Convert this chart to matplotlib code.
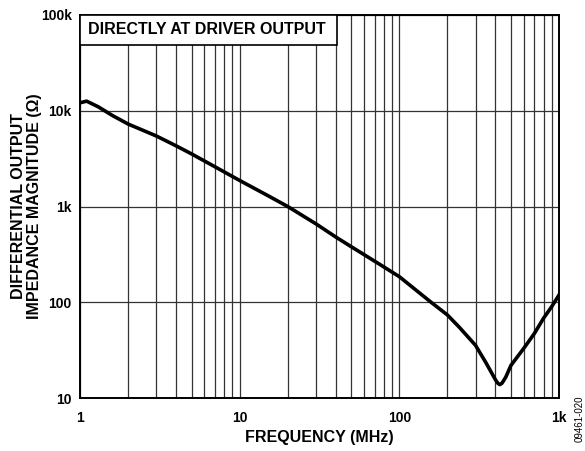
import numpy as np
import matplotlib
matplotlib.use('Agg')
import matplotlib.pyplot as plt
from matplotlib.patches import Rectangle
from matplotlib.ticker import FixedLocator, NullFormatter, NullLocator

plt.rcParams['font.family'] = ['Liberation Sans', 'DejaVu Sans']

# frequency (MHz) and impedance magnitude (ohm)
freq = [1, 1.1, 1.3, 1.6, 2, 3, 4, 5, 7, 10, 15, 20, 30, 40, 50, 60, 75, 100,
        130, 158, 200, 237, 300, 348, 400, 415, 426, 440, 464, 500, 600, 700, 800, 900, 1000]
imped = [12100, 12600, 11000, 8900, 7270, 5460, 4300, 3540, 2600, 1870, 1300, 1000,
         660, 480, 380, 315, 250, 185, 130, 100, 73.7, 55, 35.5, 23.5, 15.5, 14.2,
         13.8, 14.3, 16.5, 21.9, 32.8, 47, 68, 90, 119]

xticks = [1, 10, 100, 1000]
xticklabels = ['1', '10', '100', '1k']
yticks = [10, 100, 1000, 10000, 100000]
yticklabels = ['10', '100', '1k', '10k', '100k']

fig = plt.figure(figsize=(5.85, 4.51), dpi=100)
ax = fig.add_axes([80/585, 53/451, 479/585, 383/451])

ax.plot(freq, imped, color='black', lw=2.6, solid_joinstyle='round', zorder=3)

ax.set_xscale('log')
ax.set_yscale('log')
ax.set_xlim(1, 1000)
ax.set_ylim(10, 100000)

ax.set_xticks(xticks)
ax.set_xticklabels(xticklabels, fontsize=10, fontweight='bold')
ax.set_yticks(yticks)
ax.set_yticklabels(yticklabels, fontsize=10, fontweight='bold')
ax.xaxis.set_minor_locator(FixedLocator([m * d for d in (1, 10, 100) for m in range(2, 10)]))
ax.xaxis.set_minor_formatter(NullFormatter())
ax.yaxis.set_minor_locator(NullLocator())
ax.tick_params(which='both', length=0)
ax.tick_params(axis='x', pad=9)
ax.tick_params(axis='y', pad=6)

ax.grid(True, which='major', axis='both', color='#333333', lw=0.9)
ax.grid(True, which='minor', axis='x', color='#333333', lw=0.9)
ax.set_axisbelow(True)
for s in ax.spines.values():
    s.set_linewidth(1.4)

ax.set_xlabel('FREQUENCY (MHz)', fontsize=11.5, fontweight='bold', labelpad=4)
ax.set_ylabel('DIFFERENTIAL OUTPUT\nIMPEDANCE MAGNITUDE (Ω)', fontsize=11.5,
              fontweight='bold', labelpad=-1, linespacing=1.05)

# label box in the upper left
ax.add_patch(Rectangle((0, 0.9217), 0.5365, 0.0783, transform=ax.transAxes,
                       facecolor='white', edgecolor='black', lw=1.2, zorder=4))
ax.text(0.017, 0.961, 'DIRECTLY AT DRIVER OUTPUT', transform=ax.transAxes,
        fontsize=11.5, fontweight='bold', va='center', ha='left', zorder=5)

fig.text(580/585, 1 - 419/451, '09461-020', rotation=90, fontsize=7,
         ha='center', va='center')

fig.savefig('out.png', dpi=100)
